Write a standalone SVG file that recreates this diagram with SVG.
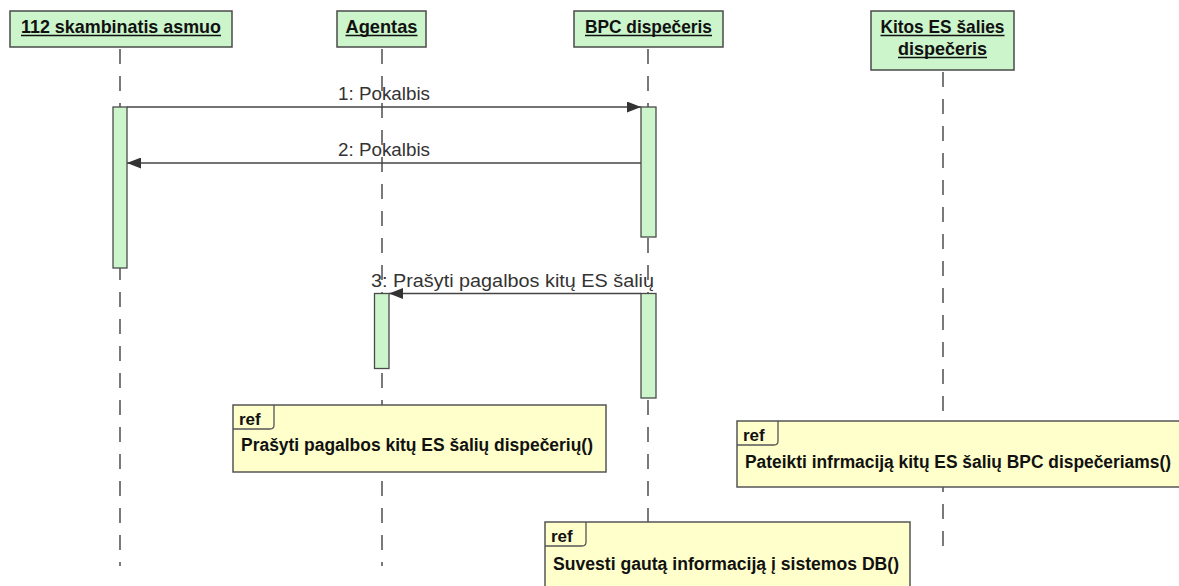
<svg xmlns="http://www.w3.org/2000/svg" width="1179" height="586" viewBox="0 0 1179 586">
  <style>
    .head { fill: #ccf5cc; stroke: #4a4a4a; stroke-width: 1.5; }
    .headtxt { font-family: "Liberation Sans", Arial, sans-serif; font-weight: bold; font-size: 18.5px; fill: #111; text-anchor: middle; }
    .uline { stroke: #111; stroke-width: 1.5; }
    .life { stroke: #333; stroke-width: 1.3; stroke-dasharray: 15 12; fill: none; }
    .act { fill: #ccf5cc; stroke: #4a4a4a; stroke-width: 1.3; }
    .msg { stroke: #444; stroke-width: 1.3; fill: none; }
    .msgtxt { font-family: "Liberation Sans", Arial, sans-serif; font-size: 17.5px; fill: #333; }
    .ref { fill: #ffffcc; stroke: #555; stroke-width: 1.5; }
    .tab { fill: none; stroke: #555; stroke-width: 1.3; }
    .reftxt { font-family: "Liberation Sans", Arial, sans-serif; font-weight: bold; font-size: 17px; fill: #111; }
    .optxt { font-family: "Liberation Sans", Arial, sans-serif; font-weight: bold; font-size: 18px; fill: #111; }
  </style>
  <defs>
    <marker id="arrow" viewBox="0 0 14 11" refX="14" refY="5.5" markerWidth="14" markerHeight="11" markerUnits="userSpaceOnUse" orient="auto">
      <path d="M0,0 L14,5.5 L0,11 Z" fill="#333"/>
    </marker>
  </defs>

  <!-- lifelines -->
  <g id="lifelines">
    <line class="life" x1="120" y1="49" x2="120" y2="566"/>
    <line class="life" x1="382" y1="49" x2="382" y2="566"/>
    <line class="life" x1="648" y1="49" x2="648" y2="540"/>
    <line class="life" x1="943" y1="72" x2="943" y2="546"/>
  </g>

  <!-- participants -->
  <g id="caller">
    <rect class="head" x="10" y="11" width="222" height="36"/>
    <text class="headtxt" x="121" y="33" textLength="200" lengthAdjust="spacingAndGlyphs">112 skambinatis asmuo</text>
    <line class="uline" x1="21" y1="35.5" x2="221" y2="35.5"/>
  </g>
  <g id="agent">
    <rect class="head" x="337" y="11" width="89" height="36"/>
    <text class="headtxt" x="381.5" y="33" textLength="72" lengthAdjust="spacingAndGlyphs">Agentas</text>
    <line class="uline" x1="345.5" y1="35.5" x2="417.5" y2="35.5"/>
  </g>
  <g id="bpc">
    <rect class="head" x="574" y="11" width="149" height="36"/>
    <text class="headtxt" x="648.5" y="33" textLength="127" lengthAdjust="spacingAndGlyphs">BPC dispečeris</text>
    <line class="uline" x1="585" y1="35.5" x2="712" y2="35.5"/>
  </g>
  <g id="foreign">
    <rect class="head" x="871" y="11" width="143" height="59"/>
    <text class="headtxt" x="942.5" y="33" textLength="124" lengthAdjust="spacingAndGlyphs">Kitos ES šalies</text>
    <line class="uline" x1="880.5" y1="35.5" x2="1004.5" y2="35.5"/>
    <text class="headtxt" x="942.5" y="55" textLength="89" lengthAdjust="spacingAndGlyphs">dispečeris</text>
    <line class="uline" x1="898" y1="57.5" x2="987" y2="57.5"/>
  </g>

  <!-- messages -->
  <g id="connectors">
    <line class="msg" x1="127" y1="107" x2="641" y2="107" marker-end="url(#arrow)"/>
    <text class="msgtxt" x="338" y="100" textLength="92" lengthAdjust="spacingAndGlyphs">1: Pokalbis</text>
    <line class="msg" x1="641" y1="163" x2="127" y2="163" marker-end="url(#arrow)"/>
    <text class="msgtxt" x="338" y="156" textLength="92" lengthAdjust="spacingAndGlyphs">2: Pokalbis</text>
    <line class="msg" x1="641" y1="293.5" x2="389" y2="293.5" marker-end="url(#arrow)"/>
    <text class="msgtxt" x="371" y="287" textLength="283" lengthAdjust="spacingAndGlyphs">3: Prašyti pagalbos kitų ES šalių</text>
  </g>

  <!-- activations -->
  <g id="activations">
    <rect class="act" x="113" y="107" width="14" height="161"/>
    <rect class="act" x="641" y="107" width="15" height="130"/>
    <rect class="act" x="641" y="293.5" width="15" height="104.5"/>
    <rect class="act" x="374.5" y="293.5" width="14.5" height="75"/>
  </g>

  <!-- interaction references -->
  <g id="ref-request">
    <rect class="ref" x="233" y="405" width="373" height="67"/>
    <path class="tab" d="M274,405 V425 Q274,429 270,429 H233"/>
    <text class="reftxt" x="239" y="425">ref</text>
    <text class="optxt" x="241" y="451" textLength="352" lengthAdjust="spacingAndGlyphs">Prašyti pagalbos kitų ES šalių dispečerių()</text>
  </g>
  <g id="ref-inform">
    <rect class="ref" x="737" y="421" width="460" height="66"/>
    <path class="tab" d="M778,421 V441 Q778,445 774,445 H737"/>
    <text class="reftxt" x="743" y="441">ref</text>
    <text class="optxt" x="745" y="468" textLength="426" lengthAdjust="spacingAndGlyphs">Pateikti infrmaciją kitų ES šalių BPC dispečeriams()</text>
  </g>
  <g id="ref-store">
    <rect class="ref" x="545" y="522" width="365" height="80"/>
    <path class="tab" d="M586,522 V542 Q586,546 582,546 H545"/>
    <text class="reftxt" x="551" y="542">ref</text>
    <text class="optxt" x="553" y="570" textLength="346" lengthAdjust="spacingAndGlyphs">Suvesti gautą informaciją į sistemos DB()</text>
  </g>
</svg>
